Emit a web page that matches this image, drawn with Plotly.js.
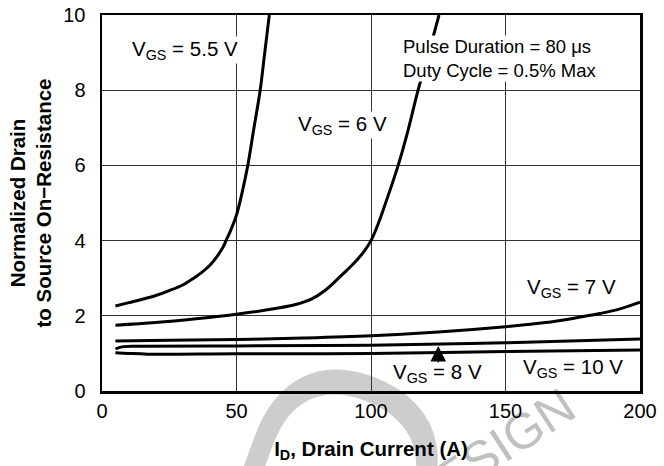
<!DOCTYPE html>
<html>
<head>
<meta charset="utf-8">
<script src="https://cdn.plot.ly/plotly-3.0.1.min.js"></script>
<style>html,body{margin:0;padding:0;background:#fff;}#chart{width:664px;height:466px;}</style>
</head>
<body>
<div id="chart"></div>
<script>
// Drain current (A) and normalized on-resistance
const x55 = [5, 10, 15, 20, 25, 30, 33, 37, 40.2, 43, 45.1, 46.1, 48, 50, 52, 54.2, 56.5, 58.8, 60.5, 62.2];
const y55 = [2.26, 2.35, 2.44, 2.54, 2.67, 2.82, 2.95, 3.15, 3.35, 3.6, 3.84, 4.0, 4.3, 4.68, 5.25, 6.0, 7.0, 8.0, 9.0, 10.0];
const x6 = [5, 20, 35, 50, 65, 72, 78, 83, 88.5, 94.7, 97.5, 100, 102.2, 104.5, 110.1, 113.8, 117.5, 121.5, 125.3];
const y6 = [1.75, 1.82, 1.92, 2.04, 2.2, 2.3, 2.45, 2.68, 3.04, 3.48, 3.72, 4.0, 4.36, 4.81, 6.0, 6.94, 8.0, 9.0, 10.0];
const x7 = [5, 25, 50, 75, 100, 125, 150, 165, 175, 185, 192, 200];
const y7 = [1.33, 1.35, 1.37, 1.41, 1.47, 1.57, 1.71, 1.82, 1.93, 2.06, 2.17, 2.36];
const x8 = [5, 8, 15, 50, 100, 150, 200];
const y8 = [1.12, 1.18, 1.19, 1.2, 1.22, 1.28, 1.38];
const x10 = [5, 10, 17, 50, 100, 150, 200];
const y10 = [1.02, 1.0, 0.98, 0.99, 1.0, 1.05, 1.09];

const xTicks = [0, 50, 100, 150, 200];
const yTicks = [0, 2, 4, 6, 8, 10];

const FONT = 'Liberation Sans, Arial, Helvetica, sans-serif';
const lineStyle = {color: '#000', width: 3, shape: 'spline', smoothing: 1};

const series = [[x55, y55], [x6, y6], [x7, y7], [x8, y8], [x10, y10]];
const traces = series.map(s => ({
  x: s[0], y: s[1], type: 'scatter', mode: 'lines', line: lineStyle,
  hoverinfo: 'skip', showlegend: false
}));

const lbl = (text, x, y, extra) => Object.assign({
  text: text, x: x, y: y, xref: 'x', yref: 'y', showarrow: false,
  font: {family: FONT, size: 20.5, color: '#000'}, bgcolor: '#fff', borderpad: 0
}, extra || {});

const annotations = [
  lbl('V<sub>GS</sub> = 5.5 V', 31, 9.07),
  lbl('V<sub>GS</sub> = 6 V', 89.4, 7.07),
  lbl('V<sub>GS</sub> = 7 V', 174.4, 2.73),
  lbl('V<sub>GS</sub> = 10 V', 175, 0.6),
  lbl('V<sub>GS</sub> = 8 V', 124.6, 0.47, {bgcolor: 'rgba(0,0,0,0)'}),
  // arrow pointing from the 8 V label up to its curve
  {text: '', x: 125, y: 1.2, xref: 'x', yref: 'y', axref: 'x', ayref: 'y', ax: 125, ay: 0.72,
   showarrow: true, arrowhead: 2, arrowsize: 2.6, arrowwidth: 1.2, arrowcolor: '#000',
   standoff: 0, startstandoff: 0},
  lbl('Pulse Duration = 80 μs<br>Duty Cycle = 0.5% Max', 111.7, 8.85, {
    xanchor: 'left', align: 'left', font: {family: FONT, size: 18.5, color: '#000'}
  })
];

// light grey watermark, drawn beneath everything
const wm = (text, cx, cy, size, angle, color, weight) => ({
  type: 'rect', xref: 'paper', yref: 'paper', layer: 'below',
  x0: cx - 0.005, x1: cx + 0.005, y0: cy - 0.005, y1: cy + 0.005,
  line: {width: 0}, fillcolor: 'rgba(0,0,0,0)',
  label: {text: text, textangle: angle, textposition: 'middle center',
          font: {family: FONT, size: size, color: color, weight: weight}}
});

const layout = {
  width: 664, height: 466,
  margin: {l: 102, r: 24, t: 15, b: 75},
  paper_bgcolor: '#fff', plot_bgcolor: '#fff',
  font: {family: FONT, size: 20, color: '#000'},
  showlegend: false,
  xaxis: {
    range: [0, 200], tickvals: xTicks, ticktext: xTicks.map(String),
    showgrid: true, gridcolor: '#333', gridwidth: 1, zeroline: false,
    showline: true, linecolor: '#000', linewidth: 2.5, mirror: true,
    ticks: '', ticklabelstandoff: 0, tickfont: {family: FONT, size: 20},
    title: {text: '<b>I<sub>D</sub>, Drain Current (A)</b>', font: {family: FONT, size: 20.5}, standoff: 21}
  },
  yaxis: {
    range: [0, 10], tickvals: yTicks, ticktext: yTicks.map(String),
    showgrid: true, gridcolor: '#333', gridwidth: 1, zeroline: false,
    showline: true, linecolor: '#000', linewidth: 2.5, mirror: true,
    ticks: '', ticklabelstandoff: 10, tickfont: {family: FONT, size: 20},
    title: {text: '<b>Normalized Drain<br>to Source On\u2212Resistance</b>', font: {family: FONT, size: 20.5}, standoff: 6}
  },
  annotations: annotations,
  shapes: [
    wm('D', 0.407, -0.151, 270, -70, '#cdcdcd', 'normal'),
    wm('DESIGN', 0.715, -0.154, 50, -33, '#c0c0c0', 'normal')
  ]
};

Plotly.newPlot('chart', traces, layout, {staticPlot: true, displayModeBar: false});
</script>
</body>
</html>
